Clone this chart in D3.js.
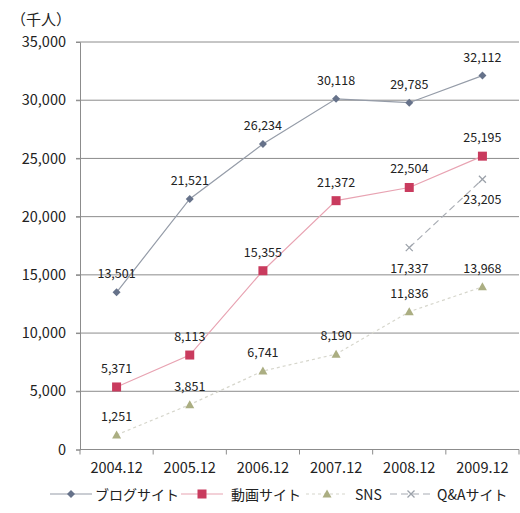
<!DOCTYPE html>
<html>
<head>
<meta charset="utf-8">
<script src="https://cdn.jsdelivr.net/npm/d3@7"></script>
<style>
  body { margin: 0; background: #fff; }
  svg { display: block; }
  text { font-family: "Noto Sans CJK JP", "Noto Sans", sans-serif; fill: #222; }
</style>
</head>
<body>
<svg id="chart" width="520" height="513"></svg>
<script>
const periods = ["2004.12", "2005.12", "2006.12", "2007.12", "2008.12", "2009.12"];
const blogValues = [13501, 21521, 26234, 30118, 29785, 32112];
const videoValues = [5371, 8113, 15355, 21372, 22504, 25195];
const snsValues = [1251, 3851, 6741, 8190, 11836, 13968];
const qaValues = [null, null, null, null, 17337, 23205];
const yTicks = [0, 5000, 10000, 15000, 20000, 25000, 30000, 35000];
const seriesNames = ["ブログサイト", "動画サイト", "SNS", "Q&Aサイト"];

const series = [
  { name: seriesNames[0], values: blogValues, line: "#959ca8", dash: null, marker: "diamond", fill: "#66728a", labelDy: -14 },
  { name: seriesNames[1], values: videoValues, line: "#e8a3b2", dash: null, marker: "square", fill: "#c93b5e", labelDy: -14 },
  { name: seriesNames[2], values: snsValues, line: "#d6d6cc", dash: "3,3", marker: "triangle", fill: "#abae82", labelDy: -14 },
  { name: seriesNames[3], values: qaValues, line: "#a8acb3", dash: "7,4", marker: "cross", fill: "#9ca2aa", labelDy: 25 }
];

const svg = d3.select("#chart");
const margin = { left: 80, right: 1, top: 42, bottom: 63.5 };
const W = 520, H = 513;

const x = d3.scaleBand().domain(periods).range([margin.left, W - margin.right]);
const y = d3.scaleLinear().domain([0, 35000]).range([H - margin.bottom, margin.top]);

// horizontal grid lines
svg.append("g").selectAll("line").data(yTicks.filter(d => d > 0)).join("line")
  .attr("x1", margin.left - 4).attr("x2", W - margin.right)
  .attr("y1", d => y(d)).attr("y2", d => y(d))
  .attr("stroke", "#8c8c8c").attr("stroke-width", 1);

// y axis
const yAxis = svg.append("g").attr("transform", `translate(${margin.left},0)`)
  .call(d3.axisLeft(y).tickValues(yTicks).tickFormat(d3.format(",")).tickSize(4).tickPadding(10));
yAxis.select(".domain").attr("stroke", "#8c8c8c");
yAxis.selectAll(".tick line").attr("stroke", "#8c8c8c");
yAxis.selectAll("text").attr("font-size", 14.5).attr("fill", "#222");

// x axis with ticks at category boundaries
const xAxisG = svg.append("g").attr("transform", `translate(0,${y(0)})`);
xAxisG.append("line").attr("x1", margin.left).attr("x2", W - margin.right)
  .attr("stroke", "#8c8c8c");
const bounds = periods.map(p => x(p)).concat([x(periods[periods.length - 1]) + x.bandwidth()]);
xAxisG.selectAll("line.b").data(bounds).join("line").attr("class", "b")
  .attr("x1", d => d).attr("x2", d => d).attr("y1", 0).attr("y2", 5)
  .attr("stroke", "#8c8c8c");
xAxisG.selectAll("text").data(periods).join("text")
  .attr("x", d => x(d) + x.bandwidth() / 2).attr("y", 23)
  .attr("text-anchor", "middle").attr("font-size", 14.5).text(d => d);

// unit label
svg.append("text").attr("x", 11).attr("y", 25).attr("font-size", 15).text("（千人）");

function drawMarker(g, type, fill) {
  if (type === "diamond") {
    g.append("path").attr("d", "M0,-4L4,0L0,4L-4,0Z").attr("fill", fill);
  } else if (type === "square") {
    g.append("rect").attr("x", -4.5).attr("y", -4.5).attr("width", 9).attr("height", 9).attr("fill", fill);
  } else if (type === "triangle") {
    g.append("path").attr("d", "M0,-4.5L4.5,3.5L-4.5,3.5Z").attr("fill", fill);
  } else {
    g.append("path").attr("d", "M-3.5,-3.5L3.5,3.5M-3.5,3.5L3.5,-3.5").attr("stroke", fill).attr("stroke-width", 1.3);
  }
}

const cx = d => x(d) + x.bandwidth() / 2;
const fmt = d3.format(",");

series.forEach(s => {
  const pts = periods.map((p, i) => ({ p, v: s.values[i] })).filter(d => d.v != null);
  const lineGen = d3.line().x(d => cx(d.p)).y(d => y(d.v));
  svg.append("path").datum(pts).attr("d", lineGen)
    .attr("fill", "none").attr("stroke", s.line).attr("stroke-width", 1.2)
    .attr("stroke-dasharray", s.dash);
  pts.forEach(d => {
    const g = svg.append("g").attr("transform", `translate(${cx(d.p)},${y(d.v)})`);
    drawMarker(g, s.marker, s.fill);
    svg.append("text").attr("x", cx(d.p)).attr("y", y(d.v) + s.labelDy)
      .attr("text-anchor", "middle").attr("font-size", 12.5).text(fmt(d.v));
  });
});

// legend
const legendItems = [
  { s: series[0], x0: 50, tx: 95 },
  { s: series[1], x0: 181, tx: 231 },
  { s: series[2], x0: 306, tx: 355 },
  { s: series[3], x0: 390, tx: 437 }
];
const ly = 494;
legendItems.forEach(it => {
  const g = svg.append("g");
  g.append("line").attr("x1", it.x0).attr("x2", it.x0 + 42).attr("y1", ly).attr("y2", ly)
    .attr("stroke", it.s.line).attr("stroke-width", 1.2).attr("stroke-dasharray", it.s.dash);
  const m = g.append("g").attr("transform", `translate(${it.x0 + 21},${ly})`);
  drawMarker(m, it.s.marker, it.s.fill);
  g.append("text").attr("x", it.tx).attr("y", ly + 5.5).attr("font-size", 14).text(it.s.name);
});
</script>
</body>
</html>
